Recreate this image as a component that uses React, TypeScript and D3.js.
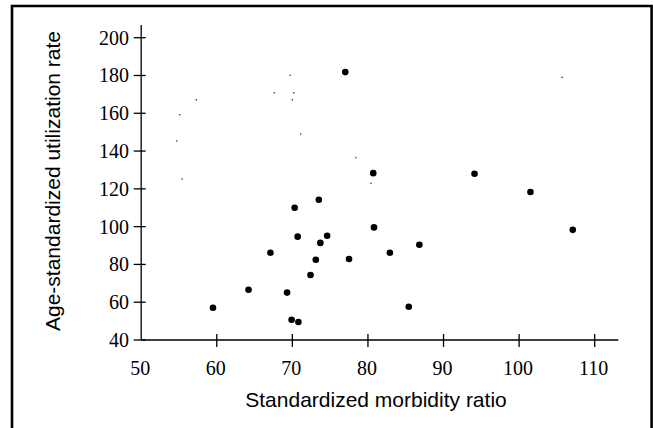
import React, { useRef, useEffect } from "react";
import * as d3 from "d3";

// big markers
const morbidityRatio = [59.5, 64.2, 67.1, 69.3, 70.3, 70.7, 69.9, 70.8, 73.5, 74.6, 73.7, 73.1, 72.4, 77.0, 80.7, 94.1, 101.5, 80.8, 77.5, 82.9, 86.8, 85.4, 107.1];
const utilizationRate = [57.1, 66.6, 86.2, 65.1, 110.0, 94.7, 50.7, 49.5, 114.2, 95.2, 91.4, 82.5, 74.4, 181.8, 128.3, 128.0, 118.3, 99.6, 82.9, 86.2, 90.4, 57.6, 98.3];

// the faint tiny dots
const smallRatio = [105.7, 78.4, 80.4, 69.7, 67.6, 70.2, 57.3, 70.0, 55.1, 71.1, 54.7, 55.4];
const smallRate = [179.0, 136.5, 122.9, 180.1, 170.8, 170.8, 167.1, 167.1, 159.2, 149.0, 145.3, 125.2];

const xTicks = [50, 60, 70, 80, 90, 100, 110];
const yTicks = [40, 60, 80, 100, 120, 140, 160, 180, 200];

const xLabel = "Standardized morbidity ratio";
const yLabel = "Age-standardized utilization rate";

const App = () => {
    const ref = useRef<SVGSVGElement>(null);

    useEffect(() => {
        const width = 653;
        const height = 428;
        const tickFont = "'Liberation Serif', 'Times New Roman', serif";
        const labelFont = "'Liberation Sans', Arial, sans-serif";

        const svg = d3.select(ref.current)
            .attr("width", width)
            .attr("height", height);
        svg.selectAll("*").remove();

        const xScale = d3.scaleLinear().domain([50, 110]).range([141.2, 594.7]);
        const yScale = d3.scaleLinear().domain([40, 200]).range([340, 37.7]);

        // outer frame (open at the bottom)
        svg.append("path")
            .attr("d", `M12,${height + 4} V6 H651.6 V${height + 4}`)
            .attr("fill", "none")
            .attr("stroke", "#000")
            .attr("stroke-width", 2.6);

        // axis lines
        svg.append("line")
            .attr("x1", xScale(50)).attr("x2", 618.3)
            .attr("y1", yScale(40)).attr("y2", yScale(40))
            .attr("stroke", "#000").attr("stroke-width", 1.3);
        svg.append("line")
            .attr("x1", xScale(50)).attr("x2", xScale(50))
            .attr("y1", 25).attr("y2", yScale(40))
            .attr("stroke", "#000").attr("stroke-width", 1.3);

        // x ticks (none at 50, it sits on the y axis)
        const xg = svg.append("g");
        xg.selectAll("line")
            .data(xTicks.filter(d => d !== 50))
            .enter().append("line")
            .attr("x1", d => xScale(d)).attr("x2", d => xScale(d))
            .attr("y1", yScale(40) - 6).attr("y2", yScale(40) + 7)
            .attr("stroke", "#000").attr("stroke-width", 1.3);
        xg.selectAll("text")
            .data(xTicks)
            .enter().append("text")
            .attr("x", d => xScale(d) - 1)
            .attr("y", 375)
            .attr("text-anchor", "middle")
            .style("font-family", tickFont)
            .style("font-size", "20px")
            .style("fill", "#000")
            .text(d => d);

        // y ticks
        const yg = svg.append("g");
        yg.selectAll("line")
            .data(yTicks)
            .enter().append("line")
            .attr("x1", xScale(50) - 7.5).attr("x2", xScale(50) + 4.5)
            .attr("y1", d => yScale(d)).attr("y2", d => yScale(d))
            .attr("stroke", "#000").attr("stroke-width", 1.3);
        yg.selectAll("text")
            .data(yTicks)
            .enter().append("text")
            .attr("x", 129)
            .attr("y", d => yScale(d) + 7)
            .attr("text-anchor", "end")
            .style("font-family", tickFont)
            .style("font-size", "20px")
            .style("fill", "#000")
            .text(d => d);

        // axis titles
        svg.append("text")
            .attr("x", 376)
            .attr("y", 407)
            .attr("text-anchor", "middle")
            .style("font-family", labelFont)
            .style("font-size", "21px")
            .style("fill", "#000")
            .text(xLabel);

        svg.append("text")
            .attr("transform", "translate(60,181) rotate(-90)")
            .attr("text-anchor", "middle")
            .style("font-family", labelFont)
            .style("font-size", "21px")
            .style("fill", "#000")
            .text(yLabel);

        // tiny dots
        svg.append("g").selectAll("circle")
            .data(smallRatio.map((x, i) => ({ x, y: smallRate[i] })))
            .enter().append("circle")
            .attr("cx", d => xScale(d.x))
            .attr("cy", d => yScale(d.y))
            .attr("r", 0.8)
            .attr("fill", "#333");

        // big markers
        svg.append("g").selectAll("circle")
            .data(morbidityRatio.map((x, i) => ({ x, y: utilizationRate[i] })))
            .enter().append("circle")
            .attr("cx", d => xScale(d.x))
            .attr("cy", d => yScale(d.y))
            .attr("r", 3.3)
            .attr("fill", "#000");
    }, []);

    return (
        <svg ref={ref} style={{ position: "absolute", left: 0, top: 0, background: "#fff" }}></svg>
    );
};

export default App;
